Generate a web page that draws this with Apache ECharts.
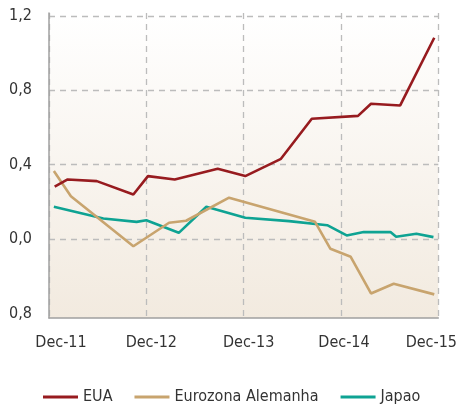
<!DOCTYPE html>
<html lang="pt" style="height: 100%;margin: 0;background-color: #fff;">
<head>
    <meta charset="UTF-8">
    <title>chart</title>
</head>
<body style="height: 100%;margin: 0;background-color: #fff;">
<div id="chart" style="width: 460px;height: 409px;margin: 0;"></div>
<script src="https://cdn.jsdelivr.net/npm/echarts@6/dist/echarts.min.js"></script>
<script>
    // months counted from Dec-11
    var xTicks = [0, 12, 24, 36, 48];
    var xTickLabels = ["Dec-11", "Dec-12", "Dec-13", "Dec-14", "Dec-15"];
    var yTicks = [-0.4, 0, 0.4, 0.8, 1.2];
    var yTickLabels = ["0,8", "0,0", "0,4", "0,8", "1,2"];
    var legend = ["EUA", "Eurozona Alemanha", "Japao"];

    var eua = [[0.7, 0.281], [2.3, 0.32], [5.9, 0.311], [10.4, 0.239], [12.2, 0.338], [15.5, 0.32],
        [20.8, 0.377], [24.2, 0.338], [28.6, 0.431], [32.4, 0.646], [38.1, 0.662], [39.7, 0.727],
        [43.3, 0.718], [47.5, 1.082]];
    var eurozona = [[0.6, 0.365], [2.7, 0.23], [10.4, -0.039], [14.8, 0.087], [16.9, 0.098], [22.2, 0.222],
        [32.8, 0.092], [34.7, -0.053], [37.2, -0.096], [39.7, -0.293], [42.5, -0.241], [47.5, -0.298]];
    var japao = [[0.6, 0.173], [6.7, 0.11], [10.8, 0.092], [12.0, 0.101], [16.0, 0.033], [19.4, 0.173],
        [24.2, 0.114], [29.6, 0.096], [34.3, 0.074], [36.7, 0.019], [38.8, 0.037], [42.1, 0.037],
        [42.8, 0.012], [45.3, 0.028], [47.4, 0.01]];

    var chart = echarts.init(document.getElementById("chart"), null, {renderer: 'canvas'});
    var font = "'DejaVu Sans Condensed', 'Liberation Sans Narrow', sans-serif";
    var colors = ['#971b1f', '#c8a46e', '#0ea393'];
    var dataList = [eua, eurozona, japao];

    var series = [];
    for (var i = 0; i < dataList.length; i++) {
        series.push({
            name: legend[i],
            type: 'line',
            data: dataList[i],
            showSymbol: false,
            symbol: 'none',
            lineStyle: {width: 2.6},
            z: 3 - i
        });
    }

    var labelStyle = {fontSize: 16, color: '#333', fontFamily: font};

    var option = {
        animation: false,
        color: colors,
        textStyle: {fontFamily: font},
        grid: {
            left: 49,
            right: 20,
            top: 13,
            bottom: 91,
            show: true,
            borderWidth: 0,
            backgroundColor: new echarts.graphic.LinearGradient(0, 0, 0, 1, [
                {offset: 0, color: '#ffffff'},
                {offset: 1, color: '#f2eadf'}
            ])
        },
        legend: {
            data: legend,
            left: 43,
            top: 389,
            padding: 0,
            icon: 'rect',
            itemWidth: 35,
            itemHeight: 3,
            itemGap: 22,
            textStyle: labelStyle
        },
        xAxis: {
            type: 'value',
            min: 0,
            max: 48,
            interval: 12,
            axisLine: {show: true, onZero: false, lineStyle: {color: '#a0a0a0', width: 1.5}},
            axisTick: {show: false},
            splitLine: {
                show: true,
                lineStyle: {color: '#bcbcbc', type: [6, 5], width: 1.3}
            },
            axisLabel: {
                margin: 17,
                fontSize: 16,
                color: '#333',
                formatter: function (v) {
                    var k = xTicks.indexOf(v);
                    return '{p' + k + '|' + xTickLabels[k] + '}';
                },
                rich: {
                    p0: {padding: [0, 0, 0, 24], fontSize: 16, color: '#333'},
                    p1: {padding: [0, 0, 0, 10], fontSize: 16, color: '#333'},
                    p2: {padding: [0, 0, 0, 10], fontSize: 16, color: '#333'},
                    p3: {padding: [0, 0, 0, 6], fontSize: 16, color: '#333'},
                    p4: {padding: [0, 14, 0, 0], fontSize: 16, color: '#333'}
                }
            }
        },
        yAxis: {
            type: 'value',
            min: -0.425,
            max: 1.215,
            axisLine: {show: true, lineStyle: {color: '#a0a0a0', width: 1.5}},
            axisTick: {show: false, customValues: yTicks.slice(1)},
            splitLine: {
                show: true,
                lineStyle: {color: '#bcbcbc', type: [6, 5], width: 1.3}
            },
            axisLabel: {
                customValues: yTicks,
                margin: 17,
                fontSize: 16,
                color: '#333',
                formatter: function (v) {
                    var best = 0;
                    for (var j = 0; j < yTicks.length; j++) {
                        if (Math.abs(yTicks[j] - v) < Math.abs(yTicks[best] - v)) best = j;
                    }
                    return yTickLabels[best];
                }
            }
        },
        series: series
    };
    chart.setOption(option);
</script>
</body>
</html>
